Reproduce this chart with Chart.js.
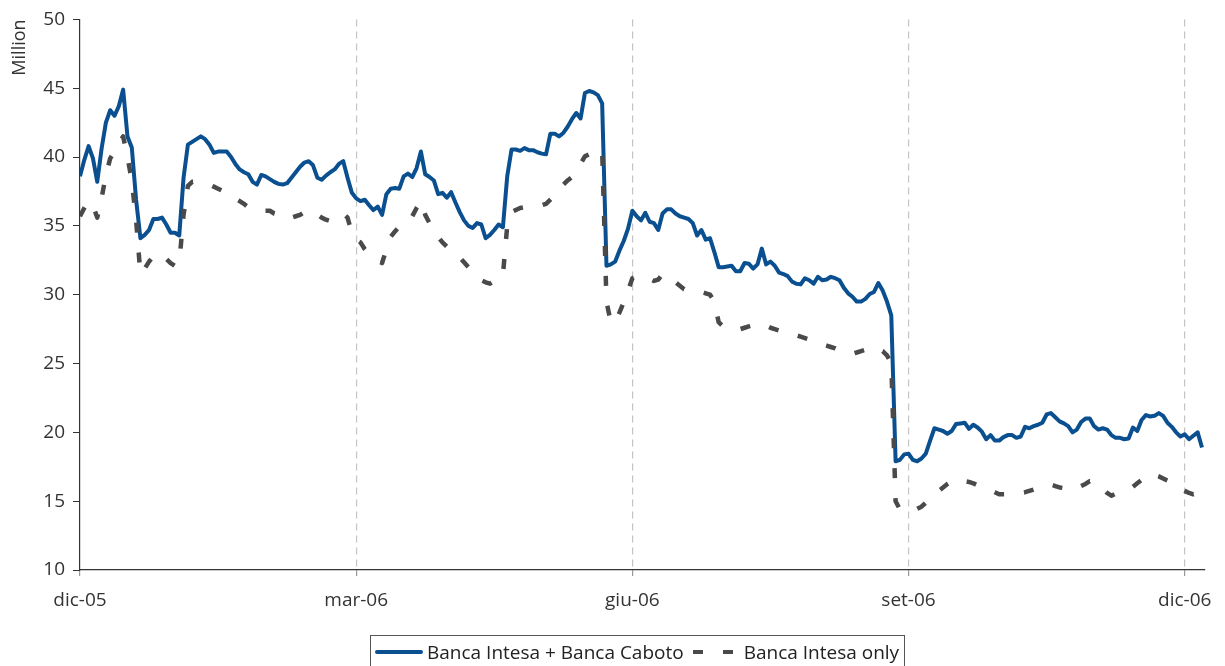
<!DOCTYPE html>
<html>
<head>
<meta charset="utf-8">
<script src="https://cdn.jsdelivr.net/npm/chart.js@4.4.1/dist/chart.umd.min.js"></script>
<style>
  body { margin: 0; background: #fff; }
  #wrap { position: relative; width: 1225px; height: 666px; }
  #legend {
    position: absolute; left: 370px; top: 635px; width: 535px; height: 33px;
    border: 1px solid #555; box-sizing: border-box;
    display: flex; align-items: center;
    font-family: "Open Sans", sans-serif; font-size: 19px; color: #222;
  }
  .solid { width: 48px; height: 4px; background: #0a4f8f; border-radius: 2px; margin-left: 4px; margin-right: 4px; }
  .dash { width: 40px; height: 4px; margin-left: 9px; margin-right: 11px;
    background: linear-gradient(to right, #4a4a4a 0 10px, transparent 10px 30px, #4a4a4a 30px 40px); }
</style>
</head>
<body>
<div id="wrap">
  <canvas id="chart" width="1225" height="666"></canvas>
  <div id="legend">
    <span class="solid"></span><span>Banca Intesa + Banca Caboto</span>
    <span class="dash"></span><span>Banca Intesa only</span>
  </div>
</div>
<script>
// one point per trading day, 64 per quarter
const quarterTicks = [0, 64, 128, 192, 256];
const quarterLabels = ['dic-05', 'mar-06', 'giu-06', 'set-06', 'dic-06'];
const days = Array.from({ length: 261 }, (_, i) => i);

const intesaCaboto = [
  38.6, 39.8, 40.8, 39.9, 38.2, 40.6, 42.5, 43.4, 43.0, 43.7,
  44.9, 41.5, 40.7, 36.9, 34.1, 34.35, 34.7, 35.5, 35.5, 35.6,
  35.1, 34.5, 34.5, 34.3, 38.5, 40.9, 41.1, 41.3, 41.5, 41.3,
  40.9, 40.3, 40.4, 40.4, 40.4, 40.0, 39.5, 39.1, 38.9, 38.75,
  38.2, 38.0, 38.7, 38.6, 38.4, 38.2, 38.05, 38.0, 38.1, 38.5,
  38.9, 39.3, 39.6, 39.7, 39.4, 38.5, 38.35, 38.65, 38.9, 39.1,
  39.5, 39.7, 38.5, 37.4, 37.0, 36.8, 36.9, 36.5, 36.15, 36.4,
  35.8, 37.3, 37.7, 37.75, 37.7, 38.6, 38.8, 38.55, 39.2, 40.4,
  38.75, 38.55, 38.3, 37.3, 37.4, 37.05, 37.45, 36.7, 36.0, 35.4,
  35.0, 34.85, 35.2, 35.1, 34.1, 34.35, 34.7, 35.1, 34.9, 38.6,
  40.55, 40.55, 40.45, 40.65, 40.5, 40.5, 40.35, 40.25, 40.2, 41.7,
  41.7, 41.5, 41.75, 42.2, 42.75, 43.2, 42.8, 44.65, 44.8, 44.7,
  44.5, 43.9, 32.1, 32.2, 32.4, 33.2, 33.9, 34.8, 36.1, 35.7,
  35.4, 35.95, 35.3, 35.2, 34.7, 35.9, 36.2, 36.2, 35.9, 35.7,
  35.6, 35.5, 35.2, 34.3, 34.7, 34.0, 34.1, 33.1, 32.0, 32.0,
  32.05, 32.1, 31.7, 31.7, 32.3, 32.25, 31.9, 32.2, 33.35, 32.2,
  32.4, 32.1, 31.6, 31.5, 31.35, 30.95, 30.8, 30.75, 31.2, 31.05,
  30.8, 31.3, 31.05, 31.1, 31.3, 31.2, 31.05, 30.5, 30.1, 29.85,
  29.5, 29.5, 29.7, 30.05, 30.2, 30.85, 30.3, 29.5, 28.5, 17.9,
  18.0, 18.4, 18.45, 18.0, 17.9, 18.1, 18.45, 19.4, 20.3, 20.2,
  20.1, 19.9, 20.1, 20.6, 20.65, 20.7, 20.25, 20.55, 20.35, 20.05,
  19.5, 19.8, 19.4, 19.4, 19.65, 19.8, 19.8, 19.6, 19.7, 20.4,
  20.3, 20.45, 20.55, 20.7, 21.3, 21.4, 21.1, 20.8, 20.65, 20.45,
  20.0, 20.2, 20.75, 21.0, 21.0, 20.45, 20.2, 20.3, 20.2, 19.8,
  19.6, 19.6, 19.5, 19.55, 20.35, 20.1, 20.9, 21.25, 21.15, 21.2,
  21.4, 21.2, 20.7, 20.4, 20.0, 19.7, 19.85, 19.5, 19.75, 20.0,
  18.9
];

const intesaOnly = [
  35.7, 36.3, 36.8, 36.5, 35.6, 37.0, 38.7, 39.9, 40.4, 41.0,
  41.5, 40.0, 38.3, 35.4, 31.5, 31.9, 32.4, 32.8, 33.0, 32.9,
  32.6, 32.3, 32.1, 32.3, 35.8, 37.9, 38.2, 38.2, 38.2, 38.1,
  38.0, 37.85, 37.7, 37.55, 37.45, 37.3, 37.0, 36.8, 36.6, 36.35,
  36.2, 36.15, 36.1, 36.1, 36.1, 35.9, 35.8, 35.6, 35.5, 35.6,
  35.7, 35.8, 36.0, 36.15, 36.0, 35.8, 35.6, 35.45, 35.35, 35.5,
  35.65, 35.9, 35.6, 34.5, 34.0, 33.8, 33.3, 32.95, 32.7, 32.45,
  32.3, 33.3, 34.2, 34.6, 34.95, 35.15, 35.3, 35.7, 36.3, 36.8,
  35.8, 35.2, 34.7, 34.2, 33.8, 33.5, 33.2, 33.0, 32.7, 32.35,
  32.0, 31.6, 31.3, 31.05, 30.9, 30.8, 31.0, 31.15, 31.4, 35.0,
  36.0, 36.15, 36.3, 36.35, 36.4, 36.4, 36.45, 36.5, 36.6, 36.9,
  37.2, 37.7, 38.0, 38.3, 38.55, 38.8, 39.5, 40.05, 40.2, 40.3,
  40.4, 40.5, 29.5, 28.0, 28.0, 28.7, 29.45, 30.3, 31.2, 31.35,
  31.4, 31.3, 31.15, 31.0, 31.1, 31.5, 31.4, 31.2, 30.9, 30.65,
  30.4, 30.3, 30.3, 30.2, 30.2, 30.1, 30.0, 29.5, 28.0, 27.7,
  27.55, 27.5, 27.5, 27.5, 27.6, 27.7, 27.8, 27.85, 27.9, 27.75,
  27.6, 27.5, 27.4, 27.35, 27.25, 27.15, 27.05, 26.95, 26.85, 26.75,
  26.6, 26.5, 26.4, 26.3, 26.2, 26.1, 25.95, 25.85, 25.75, 25.7,
  25.8, 25.9, 26.0, 26.1, 26.2, 26.0, 25.9, 25.6, 25.0, 15.0,
  14.4, 14.5, 14.5, 14.45, 14.45, 14.6, 14.9, 15.2, 15.5, 15.75,
  16.0, 16.25, 16.45, 16.6, 16.55, 16.45, 16.4, 16.3, 16.15, 16.05,
  15.9, 15.8, 15.65, 15.5, 15.5, 15.5, 15.5, 15.55, 15.6, 15.65,
  15.75, 15.85, 15.95, 16.05, 16.15, 16.2, 16.1, 16.0, 15.95, 15.9,
  15.8, 15.95, 16.1, 16.25, 16.45, 16.4, 16.1, 15.9, 15.6, 15.4,
  15.55, 15.7, 15.8, 15.9, 16.05, 16.3, 16.55, 16.8, 17.0, 16.9,
  16.8, 16.65, 16.5, 16.3, 16.1, 15.9, 15.75, 15.6, 15.5, 15.6,
  15.85
];

const tickFont = { family: 'Open Sans', size: 19 };

const ctx = document.getElementById('chart').getContext('2d');
new Chart(ctx, {
  type: 'line',
  data: {
    labels: days,
    datasets: [{
      label: 'Banca Intesa + Banca Caboto',
      data: intesaCaboto,
      borderColor: '#0a4f8f',
      borderWidth: 4,
      order: 1
    }, {
      label: 'Banca Intesa only',
      data: intesaOnly,
      borderColor: '#4a4a4a',
      borderWidth: 4.5,
      borderDash: [10, 20],
      borderCapStyle: 'butt',
      order: 0
    }]
  },
  options: {
    responsive: false,
    animation: false,
    layout: { padding: { top: 15, right: 20, bottom: 46, left: 0 } },
    elements: { point: { radius: 0 }, line: { tension: 0, borderJoinStyle: 'round' } },
    plugins: { legend: { display: false }, tooltip: { enabled: false } },
    scales: {
      x: {
        type: 'linear',
        min: 0,
        max: 260.7,
        afterBuildTicks: scale => { scale.ticks = quarterTicks.map(v => ({ value: v })); },
        afterFit: scale => { scale.height = 50; },
        ticks: {
          autoSkip: false,
          maxRotation: 0,
          padding: 13,
          color: '#333',
          font: tickFont,
          callback: v => quarterLabels[quarterTicks.indexOf(v)]
        },
        grid: {
          color: c => (c.tick && c.tick.value === 0) ? 'rgba(0,0,0,0)' : '#c4c4c4',
          lineWidth: 1.2,
          tickColor: '#999',
          tickLength: 6
        },
        border: { color: '#333', width: 1.2, dash: [7, 5] }
      },
      y: {
        min: 10,
        max: 50,
        afterFit: scale => { scale.width = 80; },
        ticks: { stepSize: 5, padding: 8, color: '#333', font: tickFont },
        grid: { drawOnChartArea: false, tickColor: '#333', tickLength: 7 },
        border: { color: '#333', width: 1.2 },
        title: {
          display: true,
          text: 'Million',
          align: 'end',
          color: '#333',
          font: { family: 'Open Sans', size: 18 },
          padding: { top: 9, bottom: 0 }
        }
      }
    }
  }
});
</script>
</body>
</html>
